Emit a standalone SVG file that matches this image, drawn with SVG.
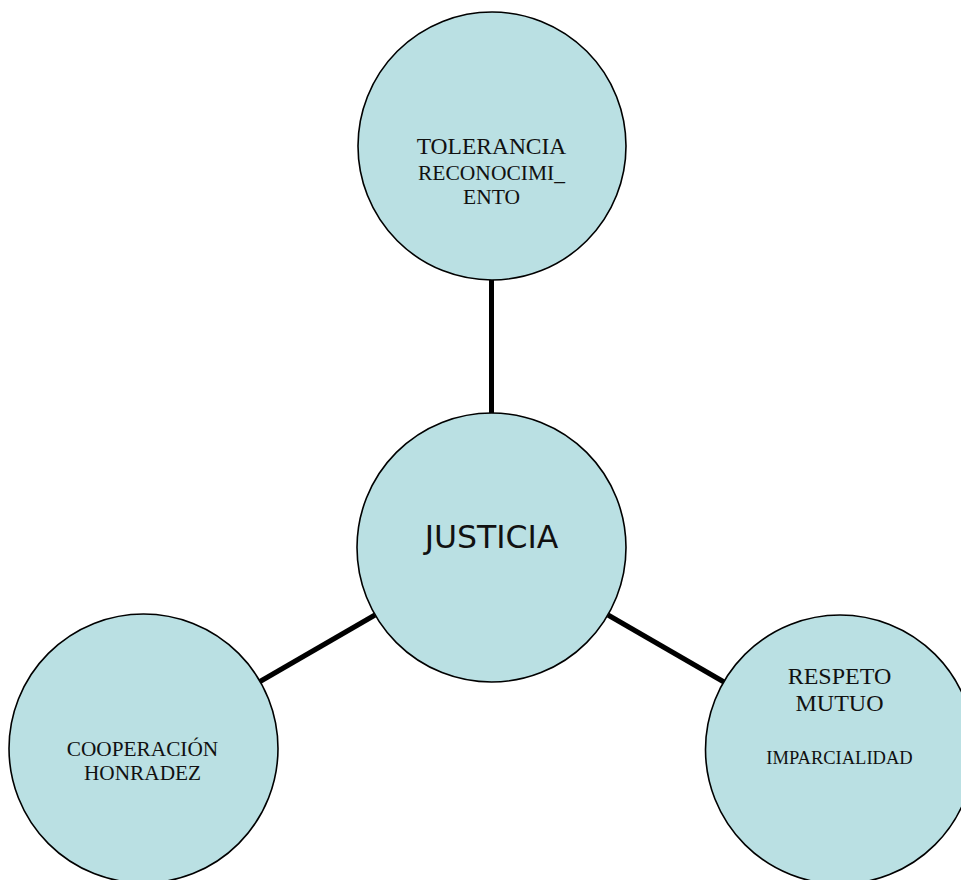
<svg xmlns="http://www.w3.org/2000/svg" width="961" height="880" viewBox="0 0 961 880">
<style>
.node{fill:#BAE0E3;stroke:#000;stroke-width:1.6}
.conn{stroke:#000;stroke-width:5;fill:none}
.t{font-family:"Liberation Serif","Times New Roman",serif;fill:#111;text-anchor:middle}
.s{font-family:"DejaVu Sans",Tahoma,sans-serif;fill:#111;text-anchor:middle}
</style>
<rect width="961" height="880" fill="#fff"/>
<g id="connectors">
<line class="conn" x1="491.5" y1="280" x2="491.5" y2="413"/>
<line class="conn" x1="375" y1="615" x2="260" y2="681.5"/>
<line class="conn" x1="608" y1="615" x2="724" y2="682"/>
</g>
<g id="tolerancia">
<circle class="node" cx="492" cy="146" r="134"/>
<text class="t" x="491.5" y="154" font-size="23.5">TOLERANCIA</text>
<text class="t" x="491.5" y="180" font-size="21.5">RECONOCIMI_</text>
<text class="t" x="491.5" y="204" font-size="21.5">ENTO</text>
</g>
<g id="justicia">
<circle class="node" cx="491.5" cy="547.5" r="134.5"/>
<text class="s" x="491.5" y="548" font-size="31.5">JUSTICIA</text>
</g>
<g id="cooperacion">
<circle class="node" cx="143.5" cy="748.5" r="134.5"/>
<text class="t" x="142.5" y="756" font-size="21.3">COOPERACIÓN</text>
<text class="t" x="142.5" y="779.5" font-size="21.3">HONRADEZ</text>
</g>
<g id="respeto">
<circle class="node" cx="840" cy="749.5" r="134.5"/>
<text class="t" x="839.5" y="684" font-size="24">RESPETO</text>
<text class="t" x="839.5" y="711" font-size="24">MUTUO</text>
<text class="t" x="839.5" y="764" font-size="18.5">IMPARCIALIDAD</text>
</g>
</svg>
